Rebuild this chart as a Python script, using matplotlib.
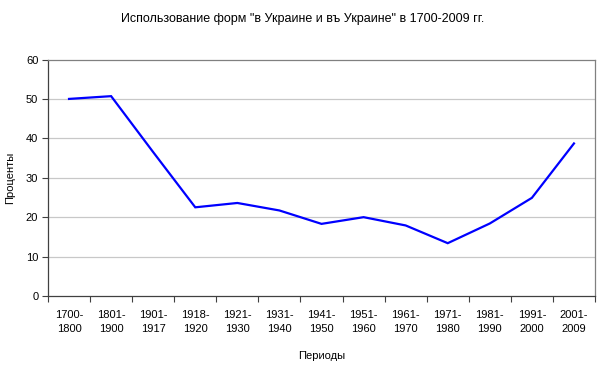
import matplotlib
matplotlib.use("Agg")
import matplotlib.pyplot as plt
import numpy as np

plt.rcParams['font.family'] = ['Liberation Sans', 'DejaVu Sans']

periods = ["1700-\n1800", "1801-\n1900", "1901-\n1917", "1918-\n1920", "1921-\n1930",
           "1931-\n1940", "1941-\n1950", "1951-\n1960", "1961-\n1970", "1971-\n1980",
           "1981-\n1990", "1991-\n2000", "2001-\n2009"]
values = [50.0, 50.7, 36.5, 22.5, 23.6, 21.7, 18.3, 20.0, 17.9, 13.4, 18.4, 24.9, 38.7]
yticks = [0, 10, 20, 30, 40, 50, 60]

fig = plt.figure(figsize=(6, 3.75), dpi=100)
ax = fig.add_axes([48/600, 1-296/375, (595-48)/600, (296-59.5)/375])

x = np.arange(len(values))
ax.plot(x, values, color=(0, 0, 1), lw=1.6, solid_joinstyle='miter')
ax.set_xlim(-0.5, len(values)-0.5)
ax.set_ylim(0, 60)
ax.set_yticks(yticks)
ax.set_yticklabels([str(v) for v in yticks], fontsize=8)
ax.set_xticks(np.arange(-0.5, len(values)), minor=False)
ax.set_xticklabels([])
ax.set_xticks(x, minor=True)
ax.set_xticklabels(periods, minor=True, fontsize=8, linespacing=1.55)
ax.tick_params(axis='x', which='minor', length=0, pad=10)
ax.tick_params(axis='x', which='major', length=4, color='#404040', direction='out')
ax.tick_params(axis='y', length=4, color='#404040', pad=3)
for y in yticks[1:-1]:
    ax.axhline(y, color='#c8c8c8', lw=0.9, zorder=0)
for s in ['left', 'bottom']:
    ax.spines[s].set_color('#404040')
    ax.spines[s].set_linewidth(0.9)
for s in ['top', 'right']:
    ax.spines[s].set_color('#808080')
    ax.spines[s].set_linewidth(0.9)

ax.set_ylabel("Проценты", fontsize=8, labelpad=8)
ax.set_xlabel("Периоды", fontsize=8, labelpad=12)
fig.text(0.505, 1-19/375, 'Использование форм "в Украине и въ Украине" в 1700-2009 гг.',
         ha='center', va='center', fontsize=9)

fig.savefig("out.png", dpi=100)
